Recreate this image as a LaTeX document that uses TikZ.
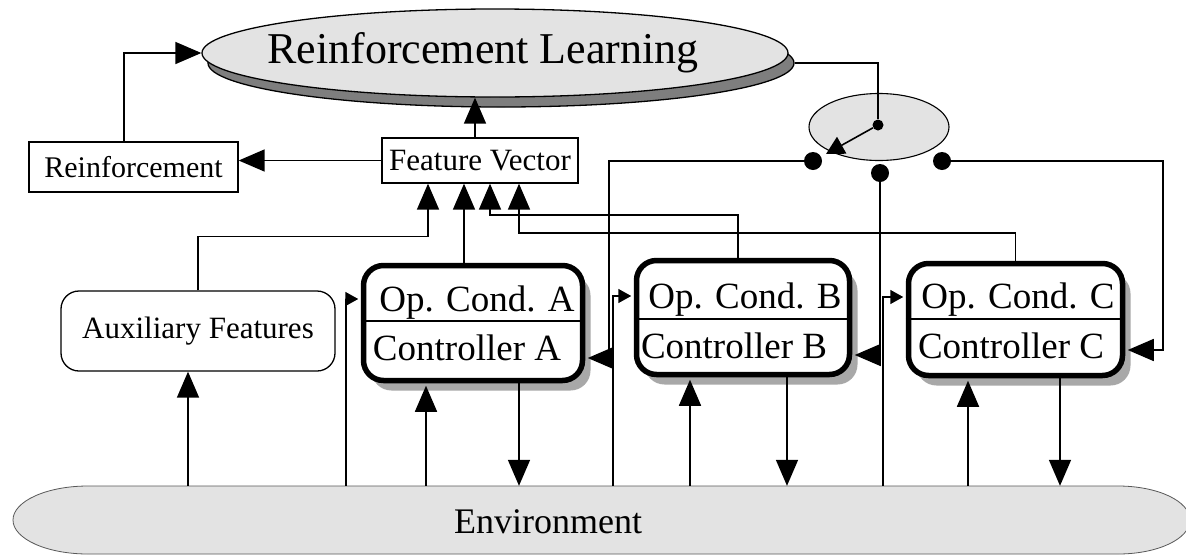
\documentclass[tikz,border=0pt]{standalone}
\usepackage{fontspec}
\setmainfont{Liberation Serif}
\usetikzlibrary{arrows.meta,shapes.geometric,shadows}

\definecolor{paleGray}{HTML}{E3E3E3}
\definecolor{shadeGray}{HTML}{7E7E7E}
\definecolor{boxShadow}{HTML}{A8A8A8}

\tikzset{
  wire/.style={line width=1.6pt},
  arr/.style={wire,-{Triangle[length=26pt,width=22pt]}},
  sarr/.style={wire,-{Triangle[length=13pt,width=14pt]}},
  marr/.style={wire,-{Triangle[length=18pt,width=19pt]}},
  into/.style={shorten >=2.5pt},
  fs/.style={font=\fontsize{#1}{#1}\selectfont},
  plainbox/.style={draw,line width=1.3pt,inner sep=0pt,fill=white},
  ctlbox/.style={draw,line width=5.5pt,rounded corners=20pt,fill=white,inner sep=0pt,
    drop shadow={shadow xshift=8pt,shadow yshift=-10pt,fill=boxShadow,opacity=1}},
  contact/.style={circle,fill=black,inner sep=0pt,minimum size=18pt},
  bigoval/.style={ellipse,draw,line width=1.3pt,minimum width=586pt,minimum height=88pt,inner sep=0pt},
}

\begin{document}
\begin{tikzpicture}[x=1pt,y=-1pt]
\useasboundingbox (0,0) rectangle (1186,555);
\clip (0,0) rectangle (1186,555);
\fill[white] (0,0) rectangle (1186,555);

% environment
\node[minimum width=1180pt,minimum height=68pt,inner sep=0pt] (env) at (600,520) {};
\filldraw[fill=paleGray,draw=black!65,line width=0.8pt]
  (88,486) -- (1118,486) arc[start angle=90,end angle=-90,x radius=72pt,y radius=34pt]
  -- (88,554) arc[start angle=270,end angle=90,x radius=75pt,y radius=34pt] -- cycle;
\node[fs=36,anchor=base] (envt) at (548,533) {Environment};

% learner
\node[bigoval,fill=shadeGray] (RLs) at (501,63) {};
\node[bigoval,fill=paleGray] (RL) at (495,53) {};
\node[fs=44,anchor=base] (RLt) at (483,63) {Reinforcement Learning};

% plain boxes
\node[plainbox,minimum width=209pt,minimum height=50pt,fs=30] (reinf) at (133.5,167) {Reinforcement};
\node[plainbox,minimum width=196pt,minimum height=45pt,fs=31] (fv) at (480,160.5) {Feature Vector};
\node[draw,line width=1.3pt,rounded corners=18pt,minimum width=274pt,minimum height=80pt,
      inner sep=0pt,fs=31] (aux) at (198,331) {Auxiliary Features};

% controllers
\node[ctlbox,minimum width=219pt,minimum height=115pt] (ctlA) at (473,323) {};
\node[ctlbox,minimum width=213pt,minimum height=114pt] (ctlB) at (743,317.5) {};
\node[ctlbox,minimum width=214pt,minimum height=112pt] (ctlC) at (1015.5,319.5) {};
\draw[line width=1.5pt] (ctlA.west |- 0,321) -- (ctlA.east |- 0,321);
\draw[line width=1.5pt] (ctlB.west |- 0,319) -- (ctlB.east |- 0,319);
\draw[line width=1.5pt] (ctlC.west |- 0,319) -- (ctlC.east |- 0,319);
\node[fs=37,anchor=base] (opA) at (477,311) {Op. Cond. A};
\node[fs=37,anchor=base] (conA) at (467,360) {Controller A};
\node[fs=37,anchor=base] (opB) at (745,308) {Op. Cond. B};
\node[fs=37,anchor=base] (conB) at (734,358) {Controller B};
\node[fs=37,anchor=base] (opC) at (1018,308) {Op. Cond. C};
\node[fs=37,anchor=base] (conC) at (1011,358) {Controller C};

% selector switch
\node[ellipse,draw,line width=1.1pt,fill=paleGray,minimum width=140pt,minimum height=67pt,inner sep=0pt] (sw) at (879,127) {};
\node[circle,fill=black,inner sep=0pt,minimum size=11pt] (piv) at (878,125) {};
\coordinate (armtip) at (826,154);
\node[contact] (cA) at (813,161) {};
\node[contact] (cB) at (880,173) {};
\node[contact] (cC) at (942,161) {};

% learner links
\draw[arr] ([xshift=-9.5pt]reinf.north) |- (RL.west);
\draw[arr] ([xshift=-5pt]fv.north) -- ([xshift=-5pt]fv.north |- RL.south);
\draw[arr] (fv.west) -- (fv.west -| reinf.east);
\draw[wire] (RLs.east) -| (piv);
\draw[marr] (piv) -- (armtip);

% features into the vector
\draw[arr] (aux.north) -- ++(0,-54) -| ([xshift=-52pt]fv.south);
\draw[arr] ([xshift=-9pt]ctlA.north) -- ([xshift=-16pt]fv.south);
\draw[arr] ([xshift=-5pt]ctlB.north) -- ++(0,-43) -| ([xshift=10pt]fv.south);
\draw[arr] (ctlC.north) -- ++(0,-28) -| ([xshift=39pt]fv.south);

% switch contacts to the controllers
\coordinate (fbA) at (609,358);
\coordinate (fbB) at (880,355);
\coordinate (fbC) at (1163,350);
\draw[arr,into] (cA) -| (fbA) -- (fbA -| ctlA.east);
\draw[arr,into] (cB) -- (fbB) -- (fbB -| ctlB.east);
\draw[arr,into] (cC) -| (fbC) -- (fbC -| ctlC.east);

% environment links
\draw[arr] ([xshift=-10pt]aux.south |- env.north) -- ([xshift=-10pt]aux.south);

\draw[sarr,into] ([xshift=-15pt]ctlA.west |- env.north) |- ([yshift=24pt]ctlA.west);
\draw[arr,into] ([xshift=-47pt]ctlA.south |- env.north) -- ([xshift=-47pt]ctlA.south);
\draw[arr] ([xshift=46pt]ctlA.south) -- ([xshift=46pt]ctlA.south |- env.north);

\draw[sarr,into] ([xshift=-20.5pt]ctlB.west |- env.north) |- ([yshift=21.5pt]ctlB.west);
\draw[arr,into] ([xshift=-53pt]ctlB.south |- env.north) -- ([xshift=-53pt]ctlB.south);
\draw[arr] ([xshift=44pt]ctlB.south) -- ([xshift=44pt]ctlB.south |- env.north);

\draw[sarr,into] ([xshift=-22.5pt]ctlC.west |- env.north) |- ([yshift=22.5pt]ctlC.west);
\draw[arr,into] ([xshift=-47.5pt]ctlC.south |- env.north) -- ([xshift=-47.5pt]ctlC.south);
\draw[arr] ([xshift=44.5pt]ctlC.south) -- ([xshift=44.5pt]ctlC.south |- env.north);
\end{tikzpicture}
\end{document}
